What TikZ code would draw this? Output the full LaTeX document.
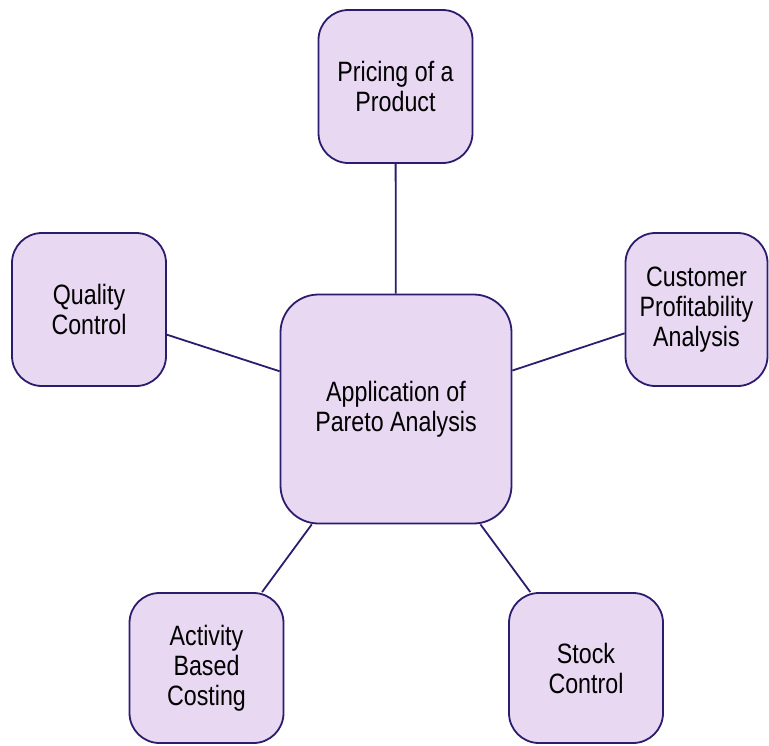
\documentclass[tikz,border=0pt]{standalone}
\usepackage{fontspec}
\setmainfont{Liberation Sans}[FakeStretch=0.83]
\definecolor{boxfill}{HTML}{E8D8F2}
\definecolor{boxline}{HTML}{2C1C6E}
\begin{document}
\begin{tikzpicture}[x=1pt,y=-1pt,
  topic/.style={draw=boxline, fill=boxfill, line width=1.8pt, rounded corners=30pt,
    inner sep=0pt, align=center, font=\fontsize{28}{30}\selectfont,
    minimum width=154pt, minimum height=153pt},
  hub/.style={topic, rounded corners=38pt, minimum width=231pt, minimum height=229pt},
  link/.style={draw=boxline, line width=1.8pt}]
\useasboundingbox (0,0) rectangle (769,745);
\node[hub] (c) at (396,409) {Application of\\Pareto Analysis};
\node[topic] (top) at (395.5,86.5) {Pricing of a\\Product};
\node[topic] (qc) at (89,309.5) {Quality\\Control};
\node[topic, minimum width=142pt] (cpa) at (696.5,309.5) {Customer\\Profitability\\Analysis};
\node[topic, minimum height=150pt] (abc) at (206.5,668) {Activity\\Based\\Costing};
\node[topic, minimum height=150pt] (sc) at (586,668) {Stock\\Control};
\path[link] (c) -- (top);
\path[link] (c) -- (qc);
\path[link] (c) -- (cpa);
\path[link] (c) -- (abc);
\path[link] (c) -- (sc);
\end{tikzpicture}
\end{document}
